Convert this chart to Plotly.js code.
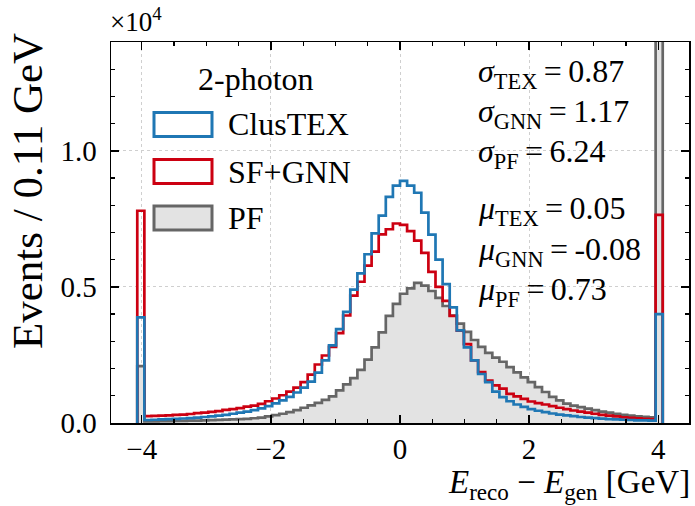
<!DOCTYPE html>
<html>
<head>
<meta charset="utf-8">
<script src="https://cdn.plot.ly/plotly-3.0.1.min.js"></script>
<style>
  html, body { margin: 0; padding: 0; background: #ffffff; }
  #chart { width: 695px; height: 506px; }
</style>
</head>
<body>
<div id="chart"></div>
<script>
// Histogram binning: 74 bins of 0.11 GeV from -4.07 to 4.07 (first/last bins hold overflow)
const binStart = -4.07;
const binWidth = 0.11;

// Events per bin (ClusTEX)
const clustex = [3880,
  110, 120, 130, 140, 150, 165, 180, 200, 220, 245,
  270, 300, 340, 380, 420, 470, 540, 620, 720, 830,
  960, 1120, 1300, 1520, 1850, 2300, 2850, 3450, 4080, 4900,
  5500, 6200, 6970, 7620, 8310, 8720, 8900, 8720, 8460, 7730,
  6920, 6000, 5100, 4250, 3400, 2780, 2300, 1800, 1500, 1150,
  950, 800, 680, 590, 510, 450, 400, 350, 310, 280,
  250, 220, 200, 180, 160, 145, 130, 120, 110, 100,
  95, 90,
  4000];

// Events per bin (SF+GNN)
const sfgnn = [7800,
  250, 260, 270, 280, 300, 310, 330, 360, 380, 410,
  440, 480, 510, 550, 600, 640, 700, 800, 900, 1020,
  1150, 1300, 1500, 1780, 2150, 2480, 2800, 3300, 3950, 4680,
  5190, 5780, 6300, 6930, 7120, 7330, 7280, 7050, 6700, 6250,
  5550, 5000, 4490, 3940, 3390, 2900, 2300, 1870, 1560, 1380,
  1260, 1070, 980, 890, 790, 730, 680, 620, 560, 510,
  460, 420, 380, 340, 300, 270, 240, 210, 190, 170,
  150, 140,
  7650];

// Events per bin (PF)
const pf = [2090,
  60, 60, 65, 70, 75, 80, 85, 90, 100, 105,
  115, 125, 135, 145, 155, 175, 200, 240, 290, 340,
  400, 470, 560, 650, 740, 850, 980, 1200, 1420, 1650,
  1950, 2330, 2780, 3330, 3940, 4380, 4750, 4950, 5150, 5050,
  4850, 4600, 4300, 3950, 3650, 3350, 3050, 2800, 2580, 2400,
  2250, 2050, 1860, 1680, 1500, 1320, 1140, 960, 830, 710,
  640, 580, 525, 470, 420, 380, 340, 300, 270, 245,
  230, 210,
  26000];

const yTickVals = [0, 5000, 10000];
const yTickText = ['0.0', '0.5', '1.0'];
const xTickVals = [-4, -2, 0, 2, 4];
const xTickText = ['\u22124', '\u22122', '0', '2', '4'];

const sigmaLines = [
  ['TEX', '0.87'],
  ['GNN', '1.17'],
  ['PF', '6.24']
];
const muLines = [
  ['TEX', '0.05'],
  ['GNN', '-0.08'],
  ['PF', '0.73']
];

const legendTitle = '2-photon';
const legendNames = ['ClusTEX', 'SF+GNN', 'PF'];

const BLUE = '#1f77b4';
const RED = '#cc0011';
const GREY = '#666666';
const FILL = '#e3e3e3';
const FONT = '"Liberation Serif", "Times New Roman", serif';

// Outline of a "step" histogram: up at the first edge, along bin tops, down at the last edge
function stepOutline(counts) {
  const xs = [binStart];
  const ys = [0];
  for (let i = 0; i <= counts.length; i++) {
    xs.push(binStart + binWidth * i);
    ys.push(i < counts.length ? counts[i] : 0);
  }
  return {x: xs, y: ys};
}

function stepTrace(counts, color, fill) {
  const s = stepOutline(counts);
  const t = {
    type: 'scatter', mode: 'lines', x: s.x, y: s.y,
    line: {shape: 'hv', color: color, width: 2.7},
    showlegend: false, hoverinfo: 'skip'
  };
  if (fill) { t.fill = 'tozeroy'; t.fillcolor = fill; }
  return t;
}

const traces = [
  stepTrace(pf, GREY, FILL),
  stepTrace(sfgnn, RED),
  stepTrace(clustex, BLUE)
];

// Plot-area geometry in pixels (used to place the hand-drawn legend)
const M = {l: 111, r: 6, t: 42, b: 83};
const W = 695, H = 506;
const plotW = W - M.l - M.r, plotH = H - M.t - M.b;
const px = (x) => (x - M.l) / plotW;
const py = (y) => (H - M.b - y) / plotH;

const shapes = [];
const annotations = [];

// Legend: outlined boxes plus labels
const legendColors = [[BLUE, 'rgba(0,0,0,0)'], [RED, 'rgba(0,0,0,0)'], [GREY, FILL]];
const legendRows = [124.5, 171.5, 218];
legendNames.forEach((name, k) => {
  const yc = legendRows[k];
  shapes.push({
    type: 'rect', xref: 'paper', yref: 'paper',
    x0: px(154), x1: px(212), y0: py(yc - 12), y1: py(yc + 12),
    line: {color: legendColors[k][0], width: 3}, fillcolor: legendColors[k][1]
  });
  annotations.push({
    xref: 'paper', yref: 'paper', x: px(226), y: py(yc),
    xanchor: 'left', yanchor: 'middle', showarrow: false,
    text: name, font: {family: FONT, size: 32, color: '#000'}
  });
});
annotations.push({
  xref: 'paper', yref: 'paper', x: px(256), y: py(79),
  xanchor: 'center', yanchor: 'middle', showarrow: false,
  text: legendTitle, font: {family: FONT, size: 32, color: '#000'}
});

// Resolution and bias summaries
const statRows = [73, 113, 153, 211, 251, 291];
sigmaLines.concat(muLines).forEach((row, k) => {
  const sym = k < 3 ? '\u03c3' : '\u03bc';
  annotations.push({
    xref: 'paper', yref: 'paper', x: px(476), y: py(statRows[k]),
    xanchor: 'left', yanchor: 'middle', showarrow: false,
    text: '<i>' + sym + '</i><sub>' + row[0] + '</sub>\u2009=\u2009' + row[1],
    font: {family: FONT, size: 32, color: '#000'}
  });
});

// Axis multiplier
annotations.push({
  xref: 'paper', yref: 'paper', x: px(108), y: py(39),
  xanchor: 'left', yanchor: 'bottom', showarrow: false,
  text: '\u00d710<sup>4</sup>', font: {family: FONT, size: 27, color: '#000'}
});

// Axis titles, aligned to the axis ends
annotations.push({
  xref: 'paper', yref: 'paper', x: px(691), y: py(484),
  xanchor: 'right', yanchor: 'middle', showarrow: false, borderpad: 0,
  text: '<i>E</i><sub>reco</sub> \u2212 <i>E</i><sub>gen</sub> [GeV]',
  font: {family: FONT, size: 33, color: '#000'}
});
annotations.push({
  xref: 'paper', yref: 'paper', x: px(27), y: py(191),
  xanchor: 'center', yanchor: 'middle', showarrow: false, textangle: -90,
  text: 'Events / 0.11 GeV',
  font: {family: FONT, size: 43, color: '#000'}
});

const axisCommon = {
  showline: true, linecolor: '#000', linewidth: 1.5, mirror: 'allticks',
  ticks: 'inside', ticklen: 8, tickwidth: 1.3, tickcolor: '#000',
  showgrid: true, gridcolor: '#cfcfcf', gridwidth: 1, griddash: 'dot',
  zeroline: false,
  tickfont: {family: FONT, size: 29, color: '#000'}
};

const layout = {
  width: W, height: H,
  margin: M,
  paper_bgcolor: '#fff', plot_bgcolor: '#fff',
  showlegend: false,
  xaxis: Object.assign({}, axisCommon, {
    range: [-4.477, 4.477],
    tickmode: 'array', tickvals: xTickVals, ticktext: xTickText,
    ticklabelstandoff: 0,
    minor: {dtick: 0.5, tick0: 0, ticks: 'inside', ticklen: 4, tickcolor: '#000', showgrid: false}
  }),
  yaxis: Object.assign({}, axisCommon, {
    range: [0, 14000],
    tickmode: 'array', tickvals: yTickVals, ticktext: yTickText,
    ticklabelstandoff: 7,
    minor: {dtick: 1000, tick0: 0, ticks: 'inside', ticklen: 4, tickcolor: '#000', showgrid: false}
  }),
  shapes: shapes,
  annotations: annotations
};

Plotly.newPlot('chart', traces, layout, {staticPlot: true, displayModeBar: false});
</script>
</body>
</html>
